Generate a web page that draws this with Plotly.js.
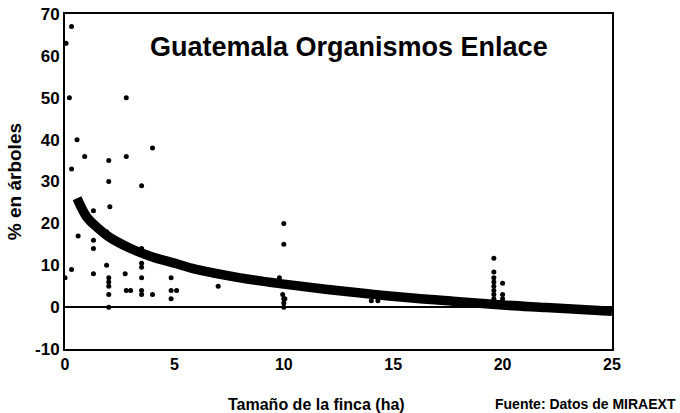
<!DOCTYPE html>
<html>
<head>
<meta charset="utf-8">
<script src="https://cdn.plot.ly/plotly-3.0.1.min.js"></script>
<style>html,body{margin:0;padding:0;background:#fff;}#chart{width:680px;height:413px;}</style>
</head>
<body>
<div id="chart"></div>
<script>
// Observed farms: size (ha) vs % in trees
const farmSize = [0.05, 0.3, 0.2, 2.8, 0.55, 0.9, 2.0, 2.8, 4.0, 0.3, 2.0, 3.5, 2.05, 1.3, 0.6, 1.3, 1.3, 1.9, 3.5, 4.9,
  0.3, 0.0, 1.3, 1.9, 2.0, 2.0, 2.0, 2.0, 2.0, 2.75, 2.8, 3.0, 3.5, 3.5, 3.5, 3.5, 3.5, 4.0, 4.85, 4.85, 5.1, 4.85,
  7.0, 10.0, 10.0, 9.8, 9.95, 10.0, 10.0, 10.05, 10.0, 14.0, 14.3,
  19.6, 19.6, 19.6, 19.6, 19.6, 19.6, 19.6, 19.6, 20.0, 20.0, 20.0];
const pctTrees = [63, 67, 50, 50, 40, 36, 35, 36, 38, 33, 30, 29, 24, 23, 17, 16, 14, 18, 14, 11,
  9, 7, 8, 10, 7, 6, 5, 3, 0, 8, 4, 4, 10.5, 9.5, 7, 4, 3, 3, 7, 4, 4, 2,
  5, 20, 15, 7, 3, 2, 1, 2, 0, 1.5, 1.5,
  11.7, 8.4, 7, 6, 5, 4, 3, 2, 5.7, 3, 2];
// Fitted trend curve
const fitX = [0.55, 1, 1.5, 2, 3, 4, 5, 6, 8, 10, 12, 14, 16, 18, 20, 22, 25];
const fitY = [26, 21.5, 18.9, 16.8, 14, 12, 10.5, 9, 7, 5.5, 4.2, 3.1, 2.1, 1.3, 0.5, -0.1, -1];
// Axis ticks
const xTicks = [0, 5, 10, 15, 20, 25];
const xTickText = ["0", "5", "10", "15", "20", "25"];
const yTicks = [-10, 0, 10, 20, 30, 40, 50, 60, 70];
const yTickText = ["-10", "0", "10", "20", "30", "40", "50", "60", "70"];

const F = 'Liberation Sans, Arial, sans-serif';
const traces = [
  {x: farmSize, y: pctTrees, mode: 'markers', type: 'scatter',
   marker: {color: '#000', size: 5}, hoverinfo: 'skip'},
  {x: fitX, y: fitY, mode: 'lines', type: 'scatter',
   line: {color: '#000', width: 9.5, shape: 'spline'}, hoverinfo: 'skip'}
];
const layout = {
  width: 680, height: 413,
  margin: {l: 65, r: 68, t: 14, b: 64},
  paper_bgcolor: '#fff', plot_bgcolor: '#fff',
  showlegend: false,
  xaxis: {range: [0, 25], tickvals: xTicks, ticktext: xTickText, showgrid: false,
    zeroline: false, showline: true, mirror: true, linecolor: '#000', linewidth: 2,
    ticks: '', ticklen: 0,
    tickfont: {family: F, size: 16, color: '#000', weight: 'bold'}},
  yaxis: {range: [-10, 70], tickvals: yTicks, ticktext: yTickText, showgrid: false,
    zeroline: true, zerolinecolor: '#000', zerolinewidth: 1.5,
    showline: true, mirror: true, linecolor: '#000', linewidth: 2,
    ticks: '', ticklen: 0,
    tickfont: {family: F, size: 17, color: '#000', weight: 'bold'}},
  annotations: [
    {text: 'Guatemala Organismos Enlace', xref: 'paper', yref: 'paper', x: 0.52, y: 0.9,
     xanchor: 'center', yanchor: 'middle', showarrow: false,
     font: {family: F, size: 27, color: '#000', weight: 'bold'}},
    {text: '% en árboles', xref: 'paper', yref: 'paper', x: -0.092, y: 0.5, textangle: -90,
     xanchor: 'center', yanchor: 'middle', showarrow: false,
     font: {family: F, size: 19, color: '#000', weight: 'bold'}},
    {text: 'Tamaño de la finca (ha)', xref: 'paper', yref: 'paper', x: 0.46, y: -0.165,
     xanchor: 'center', yanchor: 'middle', showarrow: false,
     font: {family: F, size: 16, color: '#000', weight: 'bold'}},
    {text: 'Fuente: Datos de MIRAEXT', xref: 'paper', yref: 'paper', x: 1.12, y: -0.165,
     xanchor: 'right', yanchor: 'middle', showarrow: false,
     font: {family: F, size: 14, color: '#000', weight: 'bold'}}
  ]
};
Plotly.newPlot('chart', traces, layout, {staticPlot: true, displayModeBar: false});
</script>
</body>
</html>
